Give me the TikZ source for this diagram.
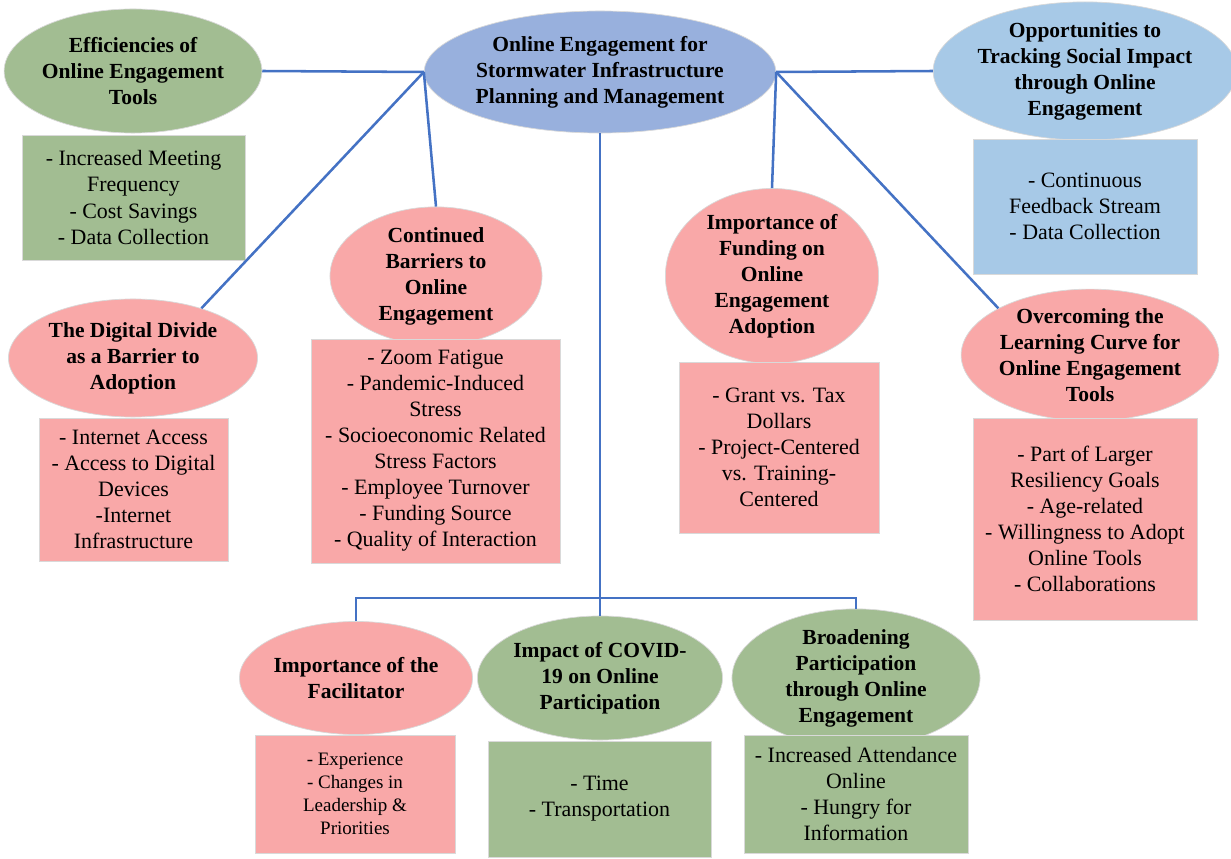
\documentclass[tikz,border=0pt]{standalone}
\usepackage{fontspec}
\setmainfont{Liberation Serif}
\usetikzlibrary{shapes.geometric}
\definecolor{topicgreen}{RGB}{162,189,146}
\definecolor{topicpink}{RGB}{249,168,168}
\definecolor{hubblue}{RGB}{152,176,221}
\definecolor{oppblue}{RGB}{167,201,231}
\definecolor{linkblue}{RGB}{68,114,196}
\begin{document}
\begin{tikzpicture}[x=0.025cm,y=-0.025cm,
  topic/.style={ellipse,draw=white!85!black,line width=0.5pt,inner sep=0pt,align=center,font=\bfseries\fontsize{15.3}{18.5}\selectfont},
  items/.style={rectangle,draw=white!85!black,line width=0.5pt,inner sep=0pt,align=center,font=\fontsize{15.6}{18.5}\selectfont},
  link/.style={draw=linkblue,line width=1.8pt}]
\useasboundingbox (0,0) rectangle (1231,859);
\node[topic,fill=hubblue,minimum width=8.4cm,minimum height=3.05cm] (hub) at (600,72) {Online Engagement for\\Stormwater Infrastructure\\Planning and Management};
\node[topic,fill=topicgreen,minimum width=6.2cm,minimum height=3.1cm] (eff) at (133,71) {Efficiencies of\\Online Engagement\\Tools};
\node[topic,fill=oppblue,minimum width=7.125cm,minimum height=3.3cm] (opp) at (1085,71) {Opportunities to\\Tracking Social Impact\\through Online\\Engagement};
\node[topic,fill=topicpink,minimum width=5.3cm,minimum height=3.2cm] (barr) at (436,276) {Continued\\Barriers to\\Online\\Engagement};
\node[topic,fill=topicpink,minimum width=6.225cm,minimum height=2.95cm] (divide) at (133,358) {The Digital Divide\\as a Barrier to\\Adoption};
\node[topic,fill=topicpink,minimum width=5.33cm,minimum height=4.3cm] (fund) at (772,276) {Importance of\\Funding on\\Online\\Engagement\\Adoption};
\node[topic,fill=topicpink,minimum width=6.425cm,minimum height=3.125cm] (curve) at (1090,355) {Overcoming the\\Learning Curve for\\Online Engagement\\Tools};
\node[topic,fill=topicpink,minimum width=5.7cm,minimum height=2.825cm] (facil) at (356,678) {Importance of the\\Facilitator};
\node[topic,fill=topicgreen,minimum width=6.1cm,minimum height=3.1cm] (covid) at (600,678) {Impact of COVID-\\19 on Online\\Participation};
\node[topic,fill=topicgreen,minimum width=6.2cm,minimum height=2.775cm] (broad) at (856,678) {Broadening\\Participation\\through Online\\Engagement};

\node[items,fill=topicgreen,minimum width=5.575cm,minimum height=3.125cm] (effitems) at (133.5,197.5) {- Increased Meeting\\Frequency\\- Cost Savings\\- Data Collection};
\node[items,fill=oppblue,minimum width=5.6cm,minimum height=3.375cm] (oppitems) at (1085,206.5) {- Continuous\\Feedback Stream\\- Data Collection};
\node[items,fill=topicpink,minimum width=6.225cm,minimum height=5.6cm] (barritems) at (435.5,451) {- Zoom Fatigue\\- Pandemic-Induced\\Stress\\- Socioeconomic Related\\Stress Factors\\- Employee Turnover\\- Funding Source\\- Quality of Interaction};
\node[items,fill=topicpink,minimum width=4.725cm,minimum height=3.575cm] (divideitems) at (133.5,489.5) {- Internet Access\\- Access to Digital\\Devices\\-Internet\\Infrastructure};
\node[items,fill=topicpink,minimum width=5cm,minimum height=4.275cm] (funditems) at (779,447.5) {- Grant vs. Tax\\Dollars\\- Project-Centered\\vs. Training-\\Centered};
\node[items,fill=topicpink,minimum width=5.6cm,minimum height=5.05cm] (curveitems) at (1085,519) {- Part of Larger\\Resiliency Goals\\- Age-related\\- Willingness to Adopt\\Online Tools\\- Collaborations};
\node[items,fill=topicpink,minimum width=5cm,minimum height=2.95cm,font=\fontsize{13.5}{16.3}\selectfont] (facilitems) at (355,794) {- Experience\\- Changes in\\Leadership \&\\Priorities};
\node[items,fill=topicgreen,minimum width=5.575cm,minimum height=2.9cm] (coviditems) at (599.5,799) {- Time\\- Transportation};
\node[items,fill=topicgreen,minimum width=5.6cm,minimum height=2.95cm] (broaditems) at (856,794) {- Increased Attendance\\Online\\- Hungry for\\Information};

\coordinate (bus) at (600,598);
\draw[link] (hub.west) -- (eff.east);
\draw[link] (hub.west) -- (divide.36);
\draw[link] (hub.west) -- (barr.north);
\draw[link] (hub.east) -- (opp.west);
\draw[link] (hub.east) -- (fund.north);
\draw[link] (hub.east) -- (curve.153);
\draw[link] (hub.south) -- (bus);
\draw[link] (facil.north) |- (bus) -| (broad.north);
\draw[link] (bus) -- (covid.north);
\end{tikzpicture}
\end{document}
